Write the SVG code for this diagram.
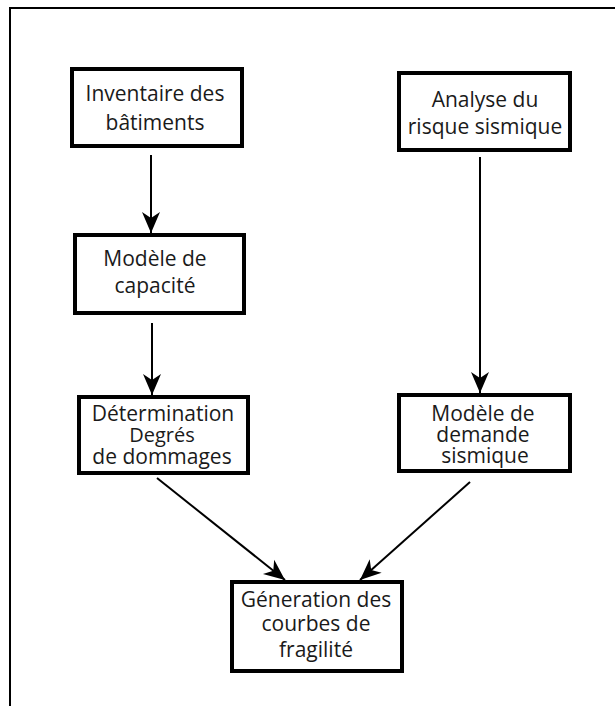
<svg xmlns="http://www.w3.org/2000/svg" width="615" height="706" viewBox="0 0 615 706">
<style>
.box{fill:#fff;stroke:#000;stroke-width:4}
.t{font-family:"Open Sans","Noto Sans","Liberation Sans",sans-serif;font-size:21px;fill:#1a1a1a;text-anchor:middle}
.s{font-size:20px}
.c{stroke:#000;stroke-width:2;fill:none;marker-end:url(#ah)}
</style>
<defs>
<marker id="ah" markerUnits="userSpaceOnUse" markerWidth="24" markerHeight="22" viewBox="-22 -11 24 22" refX="0" refY="0" orient="auto">
<path d="M0,0 L-21,-9 L-15,0 L-21,9 Z" fill="#000"/>
</marker>
</defs>
<rect width="615" height="706" fill="#fff"/>
<path d="M10,706 V8 H615" fill="none" stroke="#000" stroke-width="2"/>
<g id="connectors">
<line class="c" x1="151" y1="155" x2="151" y2="233"/>
<line class="c" x1="152" y1="323" x2="152" y2="395"/>
<line class="c" x1="480" y1="157" x2="480" y2="393"/>
<line class="c" x1="157" y1="478" x2="285" y2="580"/>
<line class="c" x1="470" y1="482" x2="360" y2="580"/>
</g>
<g id="inventaire">
<rect class="box" x="72" y="69" width="170" height="77"/>
<text class="t" x="155" y="101">Inventaire des</text>
<text class="t" x="155" y="130">bâtiments</text>
</g>
<g id="analyse">
<rect class="box" x="399" y="73" width="171" height="77"/>
<text class="t" x="485" y="107">Analyse du</text>
<text class="t" x="485" y="134">risque sismique</text>
</g>
<g id="capacite">
<rect class="box" x="75" y="235" width="169" height="78"/>
<text class="t" x="155" y="266">Modèle de</text>
<text class="t" x="155" y="293">capacité</text>
</g>
<g id="determination">
<rect class="box" x="79" y="397" width="169" height="76"/>
<text class="t" x="163" y="421">Détermination</text>
<text class="t s" x="162" y="442">Degrés</text>
<text class="t" x="162" y="464">de dommages</text>
</g>
<g id="demande">
<rect class="box" x="399" y="395" width="171" height="76"/>
<text class="t" x="483" y="421">Modèle de</text>
<text class="t" x="483" y="442">demande</text>
<text class="t" x="485" y="463">sismique</text>
</g>
<g id="generation">
<rect class="box" x="232" y="582" width="170" height="89"/>
<text class="t" x="316" y="607">Géneration des</text>
<text class="t" x="316" y="631">courbes de</text>
<text class="t" x="316" y="657">fragilité</text>
</g>
</svg>
